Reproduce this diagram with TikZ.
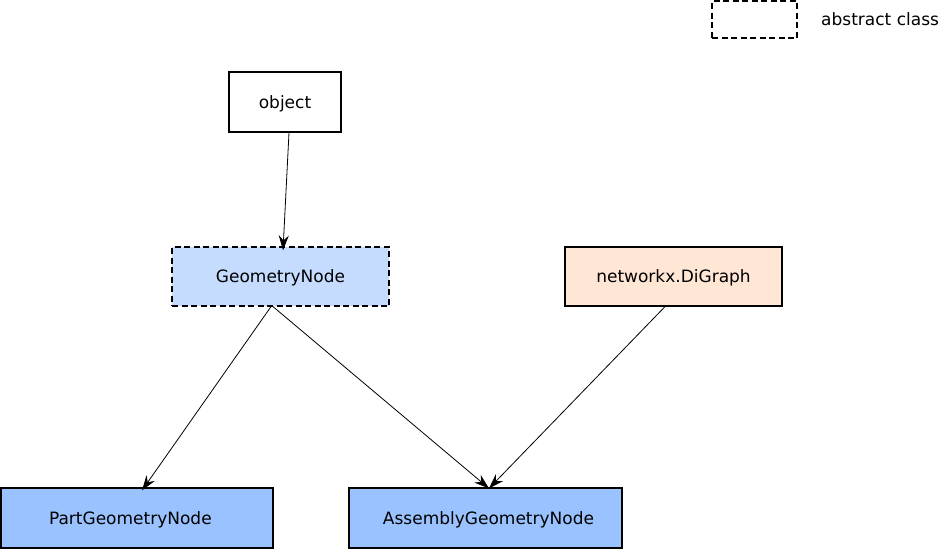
\documentclass[tikz,border=0pt]{standalone}
\usepackage{fontspec}
\setmainfont{DejaVu Sans}
\usetikzlibrary{arrows.meta}
\definecolor{geomblue}{RGB}{197,220,255}
\definecolor{partblue}{RGB}{153,194,255}
\definecolor{graphpeach}{RGB}{255,230,213}
\begin{document}
\begin{tikzpicture}[x=1pt, y=-1pt,
	classbox/.style={draw, line width=1.2pt, inner sep=0pt, minimum width=217pt, minimum height=59pt, text height=12pt, text depth=0pt, font=\fontsize{17}{20}\selectfont},
	abstractbox/.style={classbox, dash pattern=on 6pt off 3.5pt},
	inherit/.style={-{Stealth[length=15pt, width=10pt, inset=5pt]}, line width=0.8pt}]
	\useasboundingbox (0,0) rectangle (941,549);

	%legend
	\node (legend) at (754.5, 19.5) [abstractbox, minimum width=85pt, minimum height=37pt]{};
	\node (legendtext) at (821, 19.5) [anchor=west, inner sep=0pt, font=\fontsize{17}{20}\selectfont]{abstract class};

	%classes
	\node (object) at (285, 102) [classbox, minimum width=112pt, minimum height=60pt]{object};
	\node (geom) at (280.5, 276.5) [abstractbox, fill=geomblue]{GeometryNode};
	\node (digraph) at (673.5, 276.5) [classbox, fill=graphpeach]{networkx.DiGraph};
	\node (part) at (137, 518) [classbox, fill=partblue, minimum width=272pt, minimum height=60pt, text width=260pt, align=left]{\hspace*{42pt}PartGeometryNode};
	\node (assembly) at (485.5, 518) [classbox, fill=partblue, minimum width=273pt, minimum height=60pt]{\hspace*{6pt}AssemblyGeometryNode};

	%inheritance
	\draw[inherit] ([xshift=4pt]object.south) -- ([xshift=2.5pt, yshift=-4pt]geom.north);
	\draw[inherit] ([xshift=-9.5pt]geom.south) -- ([xshift=5pt, yshift=-3pt]part.north);
	\draw[inherit] ([xshift=-7.5pt]geom.south) -- ([xshift=3.5pt, yshift=-1pt]assembly.north);
	\draw[inherit] ([xshift=-8.5pt]digraph.south) -- ([xshift=3.5pt, yshift=-1pt]assembly.north);
\end{tikzpicture}
\end{document}
